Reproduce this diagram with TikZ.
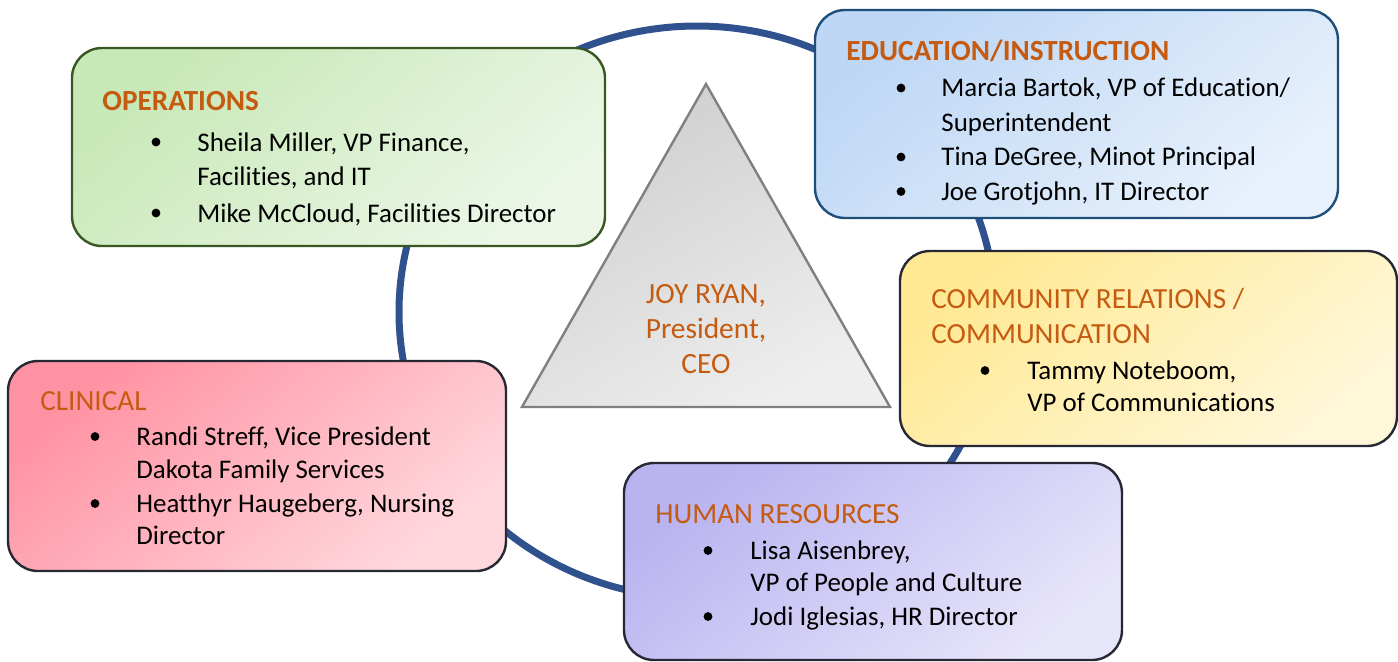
\documentclass[tikz,border=0pt]{standalone}
\usepackage{fontspec}
\setmainfont[Ligatures=NoCommon]{Carlito}
\usepackage{xcolor}
\usetikzlibrary{positioning}

\definecolor{ringblue}{RGB}{47,82,143}
\definecolor{headorange}{RGB}{197,90,17}
\definecolor{opsline}{RGB}{56,87,35}
\definecolor{eduline}{RGB}{31,78,121}
\definecolor{darkline}{RGB}{38,40,52}
\definecolor{opsA}{RGB}{199,232,183}
\definecolor{opsB}{RGB}{236,247,231}
\definecolor{eduA}{RGB}{189,215,245}
\definecolor{eduB}{RGB}{232,241,252}
\definecolor{comA}{RGB}{255,233,148}
\definecolor{comB}{RGB}{255,247,217}
\definecolor{cliA}{RGB}{255,146,162}
\definecolor{cliB}{RGB}{255,216,222}
\definecolor{hrA}{RGB}{185,179,240}
\definecolor{hrB}{RGB}{231,229,250}
\definecolor{triA}{RGB}{206,206,206}
\definecolor{triB}{RGB}{238,238,238}

\tikzset{
  panel/.style={rectangle, rounded corners=15pt, line width=1.2pt,
    inner sep=0pt},
  head/.style={anchor=base west, inner sep=0pt, text=headorange,
    font=\fontsize{14.6}{17.5}\selectfont},
  item/.style={anchor=base west, inner sep=0pt},
  dot/.style={circle, fill=black, inner sep=0pt, minimum size=4.4pt}
}

\begin{document}
\begin{tikzpicture}[x=0.5pt, y=-0.5pt,
    every node/.style={font=\fontsize{13.45}{16.5}\selectfont}]
	\useasboundingbox (0,0) rectangle (1398,661);

	% ring behind everything
	\draw[ringblue, line width=3.5pt] (697,312) ellipse [x radius=149pt, y radius=143pt];

	% panels
	\node[panel, draw=opsline, top color=opsA, bottom color=opsB, shading angle=40,
		minimum width=266.5pt, minimum height=99pt] (ops) at (338.5,147) {};
	\node[panel, draw=eduline, top color=eduA, bottom color=eduB, shading angle=40,
		minimum width=261.5pt, minimum height=104pt] (edu) at (1076.5,114) {};
	\node[panel, draw=darkline, top color=comA, bottom color=comB, shading angle=40,
		minimum width=248.5pt, minimum height=97.5pt] (com) at (1148.5,348.5) {};
	\node[panel, draw=darkline, top color=cliA, bottom color=cliB, shading angle=40,
		minimum width=249pt, minimum height=105pt] (cli) at (257,466) {};
	\node[panel, draw=darkline, top color=hrA, bottom color=hrB, shading angle=40,
		minimum width=249pt, minimum height=98.5pt] (hr) at (873,561.5) {};

	% president
	\draw[draw=black!50, line width=1.2pt, top color=triA, bottom color=triB, shading angle=30]
		(706,84) -- (890,407) -- (522,407) -- cycle;
	\node[text=headorange, align=center, inner sep=0pt, anchor=base,
		font=\fontsize{14.7}{17.5}\selectfont] (ceo) at (706,373)
		{JOY RYAN,\\President,\\CEO};

	% operations
	\node[head, font=\fontsize{14.6}{17.5}\selectfont\bfseries] (opsT) at (102,110) {OPERATIONS};
	\node[dot] (opsD1) at (156,142) {};
	\node[item] (opsL1) at (197,151) {Sheila Miller, VP Finance,};
	\node[item] (opsL2) at (197,185) {Facilities, and IT};
	\node[dot] (opsD2) at (156,213) {};
	\node[item] (opsL3) at (197,222) {Mike McCloud, Facilities Director};

	% education
	\node[head, font=\fontsize{14.6}{17.5}\selectfont\bfseries] (eduT) at (846,60) {EDUCATION/INSTRUCTION};
	\node[dot] (eduD1) at (901,88) {};
	\node[item] (eduL1) at (941,96.5) {Marcia Bartok, VP of Education/};
	\node[item] (eduL2) at (941,131) {Superintendent};
	\node[dot] (eduD2) at (901,157) {};
	\node[item] (eduL3) at (941,165.5) {Tina DeGree, Minot Principal};
	\node[dot] (eduD3) at (901,191.5) {};
	\node[item] (eduL4) at (941,200) {Joe Grotjohn, IT Director};

	% community relations
	\node[head] (comT1) at (931,308) {COMMUNITY RELATIONS /};
	\node[head] (comT2) at (931,343) {COMMUNICATION};
	\node[dot] (comD1) at (985,370.5) {};
	\node[item] (comL1) at (1027,379) {Tammy Noteboom,};
	\node[item] (comL2) at (1027,411) {VP of Communications};

	% clinical
	\node[head] (cliT) at (40,410) {CLINICAL};
	\node[dot] (cliD1) at (95,436.5) {};
	\node[item] (cliL1) at (136,445) {Randi Streff, Vice President};
	\node[item] (cliL2) at (136,478) {Dakota Family Services};
	\node[dot] (cliD2) at (95,503.5) {};
	\node[item] (cliL3) at (136,512) {Heatthyr Haugeberg, Nursing};
	\node[item] (cliL4) at (136,544) {Director};

	% human resources
	\node[head] (hrT) at (655,523) {HUMAN RESOURCES};
	\node[dot] (hrD1) at (708,550.5) {};
	\node[item] (hrL1) at (750,559) {Lisa Aisenbrey,};
	\node[item] (hrL2) at (750,591) {VP of People and Culture};
	\node[dot] (hrD2) at (708,616.5) {};
	\node[item] (hrL3) at (750,625) {Jodi Iglesias, HR Director};
\end{tikzpicture}
\end{document}
